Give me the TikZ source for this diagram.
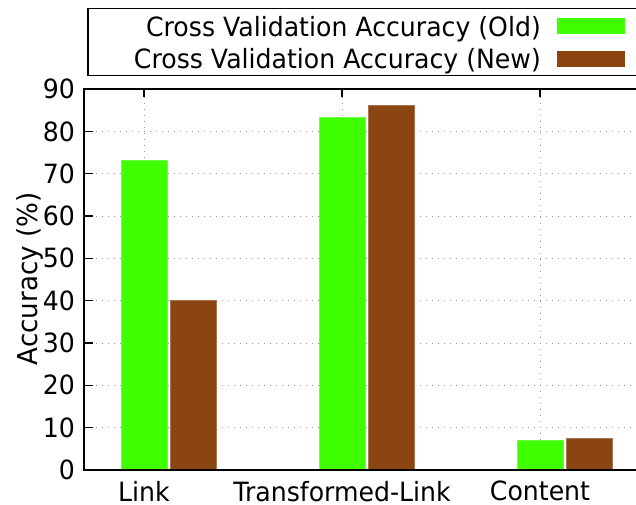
\documentclass[tikz,border=0pt]{standalone}
\usepackage{fontspec}
\setmainfont{DejaVu Sans}[FakeStretch=0.95]
\usetikzlibrary{positioning}
\definecolor{oldgreen}{RGB}{64,255,0}
\definecolor{newbrown}{RGB}{139,69,19}
\definecolor{gridgray}{RGB}{150,150,150}

\begin{document}
\begin{tikzpicture}[x=1pt, y=-1pt, font=\fontsize{26.5}{30}\selectfont,
    gridline/.style={gridgray, line width=1pt, dash pattern=on 1.2pt off 4.8pt},
    frame/.style={black, line width=1.6pt},
    tick/.style={black, line width=1.3pt},
    ticklabel/.style={inner sep=0pt},
    oldbar/.style={fill=oldgreen, draw=oldgreen!75!white, line width=0.6pt},
    newbar/.style={fill=newbrown, draw=newbrown!75!white, line width=0.6pt}]
    \clip (0,0) rectangle (636,505);

    % Legend
    \draw[line width=1.3pt] (88,8.5) rectangle (650,75.5);
    \node[ticklabel, anchor=base east] (oldlabel) at (541,37) {Cross Validation Accuracy (Old)};
    \node[ticklabel, anchor=base east] (newlabel) at (541,69) {Cross Validation Accuracy (New)};
    \fill[oldgreen] (557,18) rectangle (625,34);
    \fill[newbrown] (557,51) rectangle (625,67);

    % Data area: groups at x = 0,1,2, accuracy in %
    \begin{scope}[shift={(144,470)}, x=198pt, y=4.233pt]
        % grid
        \foreach \v in {10,20,...,80}
            \draw[gridline] (-0.303,\v) -- (2.53,\v);
        \foreach \g in {0,1,2}
            \draw[gridline] (\g,0) -- (\g,90);
        % bars
        \foreach \g/\old/\new in {0/73.2/40.0, 1/83.3/86.2, 2/6.9/7.5} {
            \draw[oldbar] (\g-0.115,0) rectangle (\g+0.117,\old);
            \draw[newbar] (\g+0.133,0) rectangle (\g+0.366,\new);
        }
        % border and ticks
        \draw[frame] (-0.303,0) rectangle (2.53,90);
        \foreach \v in {0,10,...,90} {
            \draw[tick] (-0.303,\v) -- ++(9pt,0pt);
            \draw[tick] (2.53,\v) -- ++(-9pt,0pt);
            \node[ticklabel, anchor=east] (ytick\v) at ([xshift=-9pt]-0.303,\v) {\v};
        }
        \foreach \g/\name in {0/Link, 1/Transformed-Link, 2/Content} {
            \draw[tick] (\g,90) -- ++(0pt,-8pt);
            \node[ticklabel, anchor=north] (xtick\g) at ([yshift=-11pt]\g,0) {\name};
        }
    \end{scope}

    \node[rotate=90, font=\fontsize{27.5}{30}\selectfont] (ylabel) at (30,279) {Accuracy (\%)};
\end{tikzpicture}
\end{document}
